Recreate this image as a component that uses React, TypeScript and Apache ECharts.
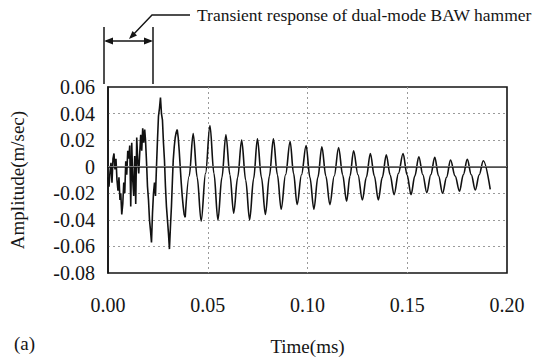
import React, { useEffect, useRef } from "react";
import * as echarts from "echarts";

// Transient part of the trace: time (ms) and amplitude (m/sec)
const transientTimes: number[] = [
  0.0000, 0.0005, 0.0010, 0.0015, 0.0020, 0.0025, 0.0030, 0.0035, 0.0040, 0.0045,
  0.0050, 0.0055, 0.0060, 0.0064, 0.0069, 0.0074, 0.0079, 0.0084, 0.0089, 0.0094,
  0.0099, 0.0104, 0.0109, 0.0114, 0.0119, 0.0124, 0.0129, 0.0134, 0.0139, 0.0144,
  0.0149, 0.0154, 0.0159, 0.0164, 0.0169, 0.0174, 0.0179, 0.0184, 0.0188, 0.0193,
  0.0198, 0.0203, 0.0208, 0.0213, 0.0218, 0.0223, 0.0228, 0.0233, 0.0238, 0.0243,
  0.0248, 0.0253, 0.0258, 0.0263, 0.0268, 0.0273, 0.0278, 0.0283, 0.0288, 0.0293,
  0.0298, 0.0303, 0.0308, 0.0313, 0.0318, 0.0323, 0.0327, 0.0332, 0.0337, 0.0342,
  0.0347, 0.0352, 0.0357, 0.0362, 0.0367, 0.0372, 0.0377, 0.0382, 0.0387,
];
const transientAmps: number[] = [
  -0.008, -0.015, -0.004, 0.003, -0.012, 0.006, 0.010, -0.002, 0.006, -0.010,
  -0.018, -0.008, -0.025, -0.020, -0.036, -0.028, -0.012, -0.020, 0.004, -0.006,
  0.012, 0.006, 0.016, -0.030, 0.018, -0.010, -0.022, 0.008, -0.028, 0.022,
  0.005, -0.005, 0.010, 0.024, 0.012, 0.029, 0.018, 0.028, 0.020, 0.004,
  -0.015, -0.025, -0.040, -0.048, -0.057, -0.035, -0.020, -0.012, -0.022, 0.000,
  0.020, 0.038, 0.044, 0.052, 0.040, 0.035, 0.018, 0.005, -0.015, -0.030,
  -0.040, -0.050, -0.062, -0.045, -0.030, -0.010, 0.005, 0.015, 0.022, 0.026,
  0.028, 0.022, 0.012, 0.000, -0.012, -0.022, -0.030, -0.036, -0.038,
];

// Ringing part: peaks, troughs and crossings
const ringTimes: number[] = [
  0.0387, 0.0407, 0.0427, 0.0447, 0.0467, 0.0489, 0.0511, 0.0531, 0.0551, 0.0571,
  0.0591, 0.0611, 0.0630, 0.0650, 0.0670, 0.0690, 0.0710, 0.0730, 0.0749, 0.0769,
  0.0789, 0.0809, 0.0829, 0.0849, 0.0868, 0.0890, 0.0913, 0.0930, 0.0948, 0.0970,
  0.0993, 0.1012, 0.1032, 0.1052, 0.1072, 0.1092, 0.1112, 0.1134, 0.1156, 0.1176,
  0.1196, 0.1213, 0.1231, 0.1253, 0.1275, 0.1295, 0.1315, 0.1335, 0.1355, 0.1375,
  0.1395, 0.1414, 0.1434, 0.1456, 0.1479, 0.1499, 0.1519, 0.1538, 0.1558, 0.1578,
  0.1598, 0.1618, 0.1638, 0.1657, 0.1677, 0.1697, 0.1717, 0.1740, 0.1762, 0.1781,
  0.1801, 0.1821, 0.1841, 0.1861, 0.1881, 0.1916,
];
const ringAmps: number[] = [
  -0.038, -0.007, 0.025, -0.008, -0.041, -0.005, 0.031, -0.005, -0.040, -0.008,
  0.024, -0.006, -0.035, -0.008, 0.020, -0.010, -0.040, -0.009, 0.021, -0.008,
  -0.036, -0.007, 0.021, -0.006, -0.032, -0.006, 0.019, -0.005, -0.0285, -0.006,
  0.016, -0.008, -0.032, -0.008, 0.015, -0.007, -0.0285, -0.007, 0.0145, -0.006,
  -0.026, -0.007, 0.012, -0.006, -0.025, -0.008, 0.010, -0.007, -0.025, -0.008,
  0.009, -0.006, -0.021, -0.005, 0.010, -0.006, -0.021, -0.007, 0.0075, -0.006,
  -0.0195, -0.006, 0.007, -0.007, -0.020, -0.008, 0.005, -0.007, -0.0185, -0.006,
  0.0055, -0.006, -0.0175, -0.006, 0.0045, -0.017,
];

const xTicks: number[] = [0, 0.05, 0.1, 0.15, 0.2];
const yTicks: number[] = [-0.08, -0.06, -0.04, -0.02, 0, 0.02, 0.04, 0.06];

const FONT = "'Liberation Serif', 'Times New Roman', serif";
const INK = "#151515";

export default function App() {
  const ref = useRef<HTMLDivElement>(null);

  useEffect(() => {
    if (!ref.current) return;
    const chart = echarts.init(ref.current, null, { renderer: "svg" });
    const transient = transientTimes.map((t, i) => [t, transientAmps[i]]);
    const ring = ringTimes.map((t, i) => [t, ringAmps[i]]);

    chart.setOption({
      animation: false,
      backgroundColor: "#ffffff",
      grid: {
        left: 104,
        right: 31,
        top: 87,
        bottom: 87,
        show: true,
        borderColor: INK,
        borderWidth: 1.6,
        backgroundColor: "transparent",
      },
      xAxis: {
        type: "value",
        min: xTicks[0],
        max: xTicks[xTicks.length - 1],
        interval: 0.05,
        name: "Time(ms)",
        nameLocation: "middle",
        nameGap: 64,
        nameTextStyle: { fontFamily: FONT, fontSize: 19, color: INK },
        axisLine: { show: true, lineStyle: { color: INK, width: 1.6 } },
        axisTick: { show: false },
        axisLabel: {
          fontFamily: FONT,
          fontSize: 20,
          color: INK,
          margin: 22,
          formatter: (v: number) => v.toFixed(2),
        },
        splitLine: {
          show: true,
          showMinLine: false,
          showMaxLine: false,
          lineStyle: { color: "#9a9a9a", type: [2, 3], width: 1 },
        },
      },
      yAxis: {
        type: "value",
        min: yTicks[0],
        max: yTicks[yTicks.length - 1],
        interval: 0.02,
        name: "Amplitude(m/sec)",
        nameLocation: "middle",
        nameGap: 81,
        nameTextStyle: { fontFamily: FONT, fontSize: 19, color: INK },
        axisLine: { show: true, lineStyle: { color: INK, width: 1.6 } },
        axisTick: { show: false },
        axisLabel: {
          fontFamily: FONT,
          fontSize: 20,
          color: INK,
          margin: 13,
          formatter: (v: number) => (Math.abs(v) < 1e-9 ? "0" : v.toFixed(2)),
        },
        splitLine: {
          show: true,
          showMinLine: false,
          showMaxLine: false,
          lineStyle: { color: "#9a9a9a", type: [2, 3], width: 1 },
        },
      },
      series: [
        {
          type: "line",
          data: transient,
          showSymbol: false,
          symbol: "none",
          lineStyle: { color: "#111111", width: 1.6 },
          markLine: {
            silent: true,
            symbol: "none",
            label: { show: false },
            lineStyle: { color: "#777777", type: "solid", width: 1.2 },
            data: [{ yAxis: 0 }],
          },
          z: 3,
        },
        {
          type: "line",
          data: ring,
          showSymbol: false,
          symbol: "none",
          smooth: 0.35,
          smoothMonotone: "x",
          lineStyle: { color: "#111111", width: 1.6 },
          z: 3,
        },
      ],
      graphic: [
        { type: "line", shape: { x1: 104, y1: 27, x2: 104, y2: 84 }, style: { stroke: INK, lineWidth: 1.5 } },
        { type: "line", shape: { x1: 153, y1: 27, x2: 153, y2: 84 }, style: { stroke: INK, lineWidth: 1.5 } },
        { type: "line", shape: { x1: 106, y1: 41, x2: 151, y2: 41 }, style: { stroke: INK, lineWidth: 1.5 } },
        { type: "polygon", shape: { points: [[104, 41], [113, 37.5], [113, 44.5]] }, style: { fill: INK } },
        { type: "polygon", shape: { points: [[153, 41], [144, 37.5], [144, 44.5]] }, style: { fill: INK } },
        { type: "polyline", shape: { points: [[131, 37], [152, 15], [190, 15]] }, style: { stroke: INK, lineWidth: 1.4, fill: null } },
        { type: "polygon", shape: { points: [[129, 39], [137, 35.5], [132.5, 31]] }, style: { fill: INK } },
        {
          type: "text",
          x: 197,
          y: 15,
          style: {
            text: "Transient response of dual-mode BAW hammer",
            fontFamily: FONT,
            fontSize: 17.5,
            fill: INK,
            verticalAlign: "middle",
            align: "left",
          },
        },
        {
          type: "text",
          x: 14,
          y: 343,
          style: { text: "(a)", fontFamily: FONT, fontSize: 19, fill: INK, verticalAlign: "middle", align: "left" },
        },
      ],
    });

    return () => chart.dispose();
  }, []);

  return <div ref={ref} style={{ width: 538, height: 361, position: "absolute", left: 0, top: 0 }} />;
}
